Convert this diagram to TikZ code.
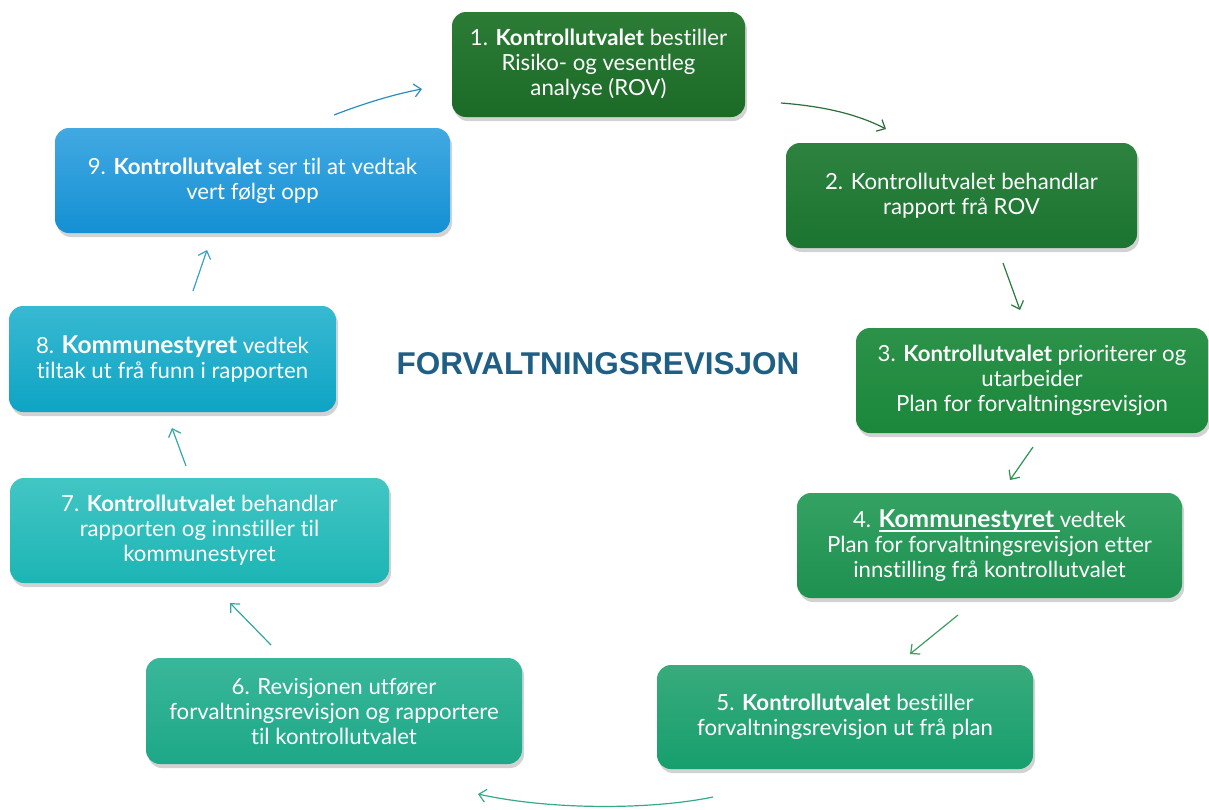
\documentclass[tikz,border=0pt]{standalone}
\usepackage{fontspec}
\setmainfont{Lato}[Ligatures=NoCommon]
\newfontfamily\titlefont{Liberation Sans}
\usetikzlibrary{arrows.meta,shadows}
\newcommand\myul[1]{\setbox0\hbox{#1}\rlap{\rule[-4.5pt]{\wd0}{1.6pt}}\box0}
\definecolor{titleblue}{HTML}{1F5F85}
\definecolor{bAt}{HTML}{2C7C36}\definecolor{bAb}{HTML}{1B6A27}
\definecolor{bBt}{HTML}{2E8240}\definecolor{bBb}{HTML}{1B7430}
\definecolor{bCt}{HTML}{2C9249}\definecolor{bCb}{HTML}{1A883B}
\definecolor{bDt}{HTML}{34A263}\definecolor{bDb}{HTML}{1E9050}
\definecolor{bEt}{HTML}{38AB7C}\definecolor{bEb}{HTML}{179F6E}
\definecolor{bFt}{HTML}{3AB79A}\definecolor{bFb}{HTML}{1DA888}
\definecolor{bGt}{HTML}{42C6C4}\definecolor{bGb}{HTML}{1CB5B4}
\definecolor{bHt}{HTML}{38B9D2}\definecolor{bHb}{HTML}{0EA4C4}
\definecolor{bIt}{HTML}{42A9E2}\definecolor{bIb}{HTML}{1490D4}
\definecolor{aA}{HTML}{2A8EC0}
\definecolor{aB}{HTML}{2A6E3A}
\definecolor{aC}{HTML}{2A7A3E}
\definecolor{aD}{HTML}{2E9250}
\definecolor{aE}{HTML}{3A9E62}
\definecolor{aF}{HTML}{35AA8A}
\definecolor{aG}{HTML}{30A8A0}
\definecolor{aH}{HTML}{30A8AC}
\definecolor{aI}{HTML}{3A9FCA}
\tikzset{
  stepbox/.style={rounded corners=14pt, draw=none, text=white, align=center,
    font=\fontsize{22.2}{25}\selectfont, inner sep=0pt,
    drop shadow={opacity=0.35, shadow xshift=2pt, shadow yshift=-4pt}},
  flow/.style={line width=1.2pt, -{Straight Barb[length=7pt,width=13pt]}},
}
\begin{document}
\begin{tikzpicture}[x=1pt,y=-1pt]
\useasboundingbox (0,0) rectangle (1209,809);
\fill[white] (0,0) rectangle (1209,809);

\node[stepbox, top color=bAt, bottom color=bAb, minimum width=293pt, minimum height=105pt] (s1) at (598.5,64.5)
  {1. \textbf{Kontrollutvalet} bestiller\\Risiko- og vesentleg\\analyse (ROV)};
\node[stepbox, top color=bBt, bottom color=bBb, minimum width=351pt, minimum height=105pt] (s2) at (961.5,195.5)
  {2. Kontrollutvalet behandlar\\rapport frå ROV};
\node[stepbox, top color=bCt, bottom color=bCb, minimum width=352pt, minimum height=105pt] (s3) at (1032,380.5)
  {3. \textbf{Kontrollutvalet} prioriterer og\\utarbeider\\Plan for forvaltningsrevisjon};
\node[stepbox, top color=bDt, bottom color=bDb, minimum width=385pt, minimum height=105pt] (s4) at (989.5,545.5)
  {4. \myul{{\fontsize{24.5}{25}\selectfont\textbf{Kommunestyret}}\ }vedtek\\Plan for forvaltningsrevisjon etter\\innstilling frå kontrollutvalet};
\node[stepbox, top color=bEt, bottom color=bEb, minimum width=376pt, minimum height=104pt] (s5) at (845,717)
  {5. \textbf{Kontrollutvalet} bestiller\\forvaltningsrevisjon ut frå plan};
\node[stepbox, top color=bFt, bottom color=bFb, minimum width=376pt, minimum height=106pt] (s6) at (334,711)
  {6. Revisjonen utfører\\forvaltningsrevisjon og rapportere\\til kontrollutvalet};
\node[stepbox, top color=bGt, bottom color=bGb, minimum width=379pt, minimum height=105pt] (s7) at (199.5,530.5)
  {7. \textbf{Kontrollutvalet} behandlar\\rapporten og innstiller til\\kommunestyret};
\node[stepbox, top color=bHt, bottom color=bHb, minimum width=327pt, minimum height=106pt] (s8) at (172.5,359)
  {8. {\fontsize{24.5}{25}\selectfont\textbf{Kommunestyret}} vedtek\\tiltak ut frå funn i rapporten};
\node[stepbox, top color=bIt, bottom color=bIb, minimum width=395pt, minimum height=105pt] (s9) at (252.5,180.5)
  {9. \textbf{Kontrollutvalet} ser til at vedtak\\vert følgt opp};

\node[text=titleblue, font=\titlefont\bfseries\fontsize{31.5}{34}\selectfont] (title) at (598,364) {FORVALTNINGSREVISJON};

% arrow end points
\coordinate (a9s) at (334,115); \coordinate (a9e) at (422,89);
\coordinate (a1s) at (781,103); \coordinate (a1e) at (886,129);
\coordinate (a2s) at (1003,263); \coordinate (a2e) at (1020,310);
\coordinate (a3s) at (1033,447); \coordinate (a3e) at (1010,480);
\coordinate (a4s) at (958,615); \coordinate (a4e) at (910,654);
\coordinate (a5s) at (713,797); \coordinate (a5e) at (478,794);
\coordinate (a6s) at (271,645); \coordinate (a6e) at (230,603);
\coordinate (a7s) at (186,466); \coordinate (a7e) at (172,428);
\coordinate (a8s) at (193,291); \coordinate (a8e) at (207,250);

\draw[flow, aA] (a9s) .. controls (365,103) and (395,94) .. (a9e);
\draw[flow, aB] (a1s) .. controls (820,106) and (855,113) .. (a1e);
\draw[flow, aC] (a2s) -- (a2e);
\draw[flow, aD] (a3s) -- (a3e);
\draw[flow, aE] (a4s) -- (a4e);
\draw[flow, aF] (a5s) .. controls (650,810) and (550,810) .. (a5e);
\draw[flow, aG] (a6s) -- (a6e);
\draw[flow, aH] (a7s) -- (a7e);
\draw[flow, aI] (a8s) -- (a8e);
\end{tikzpicture}
\end{document}
